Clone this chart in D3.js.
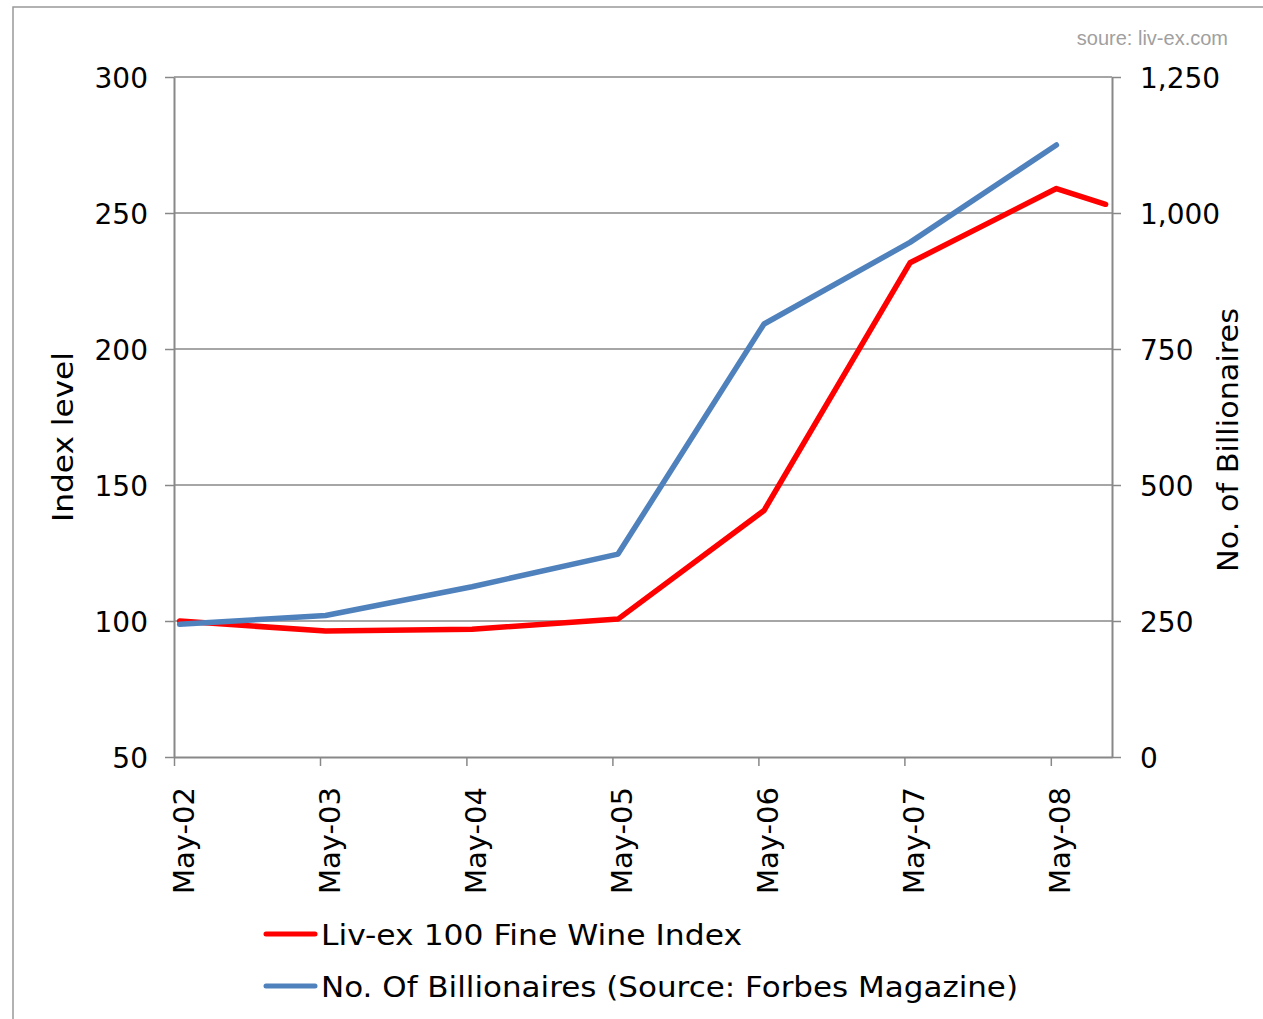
<!DOCTYPE html>
<html>
<head>
<meta charset="utf-8">
<script src="https://cdn.jsdelivr.net/npm/d3@7"></script>
<style>
  body { margin: 0; background: #fff; }
  text { font-family: "DejaVu Sans", Verdana, sans-serif; fill: #000; }
</style>
</head>
<body>
<svg id="screen" width="1263" height="1019"></svg>
<script>
// data
const pointDates = ["2002-05-15", "2003-05-15", "2004-05-15", "2005-05-15", "2006-05-15", "2007-05-15", "2008-05-15", "2008-09-15"];
const wineIndex = [100, 96.3, 97, 100.7, 140.6, 231.7, 259, 253.2];
const billionaires = [244, 260, 313, 373, 796, 946, 1125];
const tickYears = ["May-02", "May-03", "May-04", "May-05", "May-06", "May-07", "May-08"];
const leftTicks = [50, 100, 150, 200, 250, 300];
const rightTicks = [0, 250, 500, 750, 1000, 1250];

const parse = d3.timeParse("%Y-%m-%d");
const parseTick = d3.timeParse("%b-%y");

const svg = d3.select("#screen");

// outer chart frame
svg.append("rect")
  .attr("x", 13).attr("y", 7)
  .attr("width", 1262).attr("height", 1030)
  .attr("fill", "none").attr("stroke", "#999").attr("stroke-width", 1.5)

const plotLeft = 174, plotRight = 1112, plotTop = 77, plotBottom = 757;

const x = d3.scaleTime()
  .domain([new Date(2002, 4, 1), new Date(2008, 9, 1)])
  .range([plotLeft, plotRight]);
const yL = d3.scaleLinear().domain([50, 300]).range([plotBottom, plotTop]);
const yR = d3.scaleLinear().domain([0, 1250]).range([plotBottom, plotTop]);

const grey = "#888";
const font = '"DejaVu Sans", Verdana, sans-serif';

// gridlines
svg.append("g")
  .selectAll("line")
  .data(leftTicks.slice(1))
  .enter()
  .append("line")
  .attr("x1", plotLeft).attr("x2", plotRight)
  .attr("y1", d => yL(d)).attr("y2", d => yL(d))
  .attr("stroke", grey).attr("stroke-width", 1.5)

// left axis
const axL = svg.append("g")
  .attr("transform", `translate(${plotLeft},0)`)
  .call(d3.axisLeft(yL).tickValues(leftTicks).tickSize(9).tickSizeOuter(0).tickPadding(17));
axL.select(".domain").attr("stroke", grey).attr("stroke-width", 2);
axL.selectAll(".tick line").attr("stroke", grey).attr("stroke-width", 1.5);
axL.selectAll("text").style("font-size", "28px").style("font-family", font).attr("fill", "#000").attr("y", 2);

// right axis
const axR = svg.append("g")
  .attr("transform", `translate(${plotRight},0)`)
  .call(d3.axisRight(yR).tickValues(rightTicks).tickSize(9).tickSizeOuter(0).tickPadding(19).tickFormat(d3.format(",")));
axR.select(".domain").attr("stroke", grey).attr("stroke-width", 2);
axR.selectAll(".tick line").attr("stroke", grey).attr("stroke-width", 1.5);
axR.selectAll("text").style("font-size", "28px").style("font-family", font).attr("fill", "#000").attr("y", 2);

// bottom axis, labels turned on their side
const axB = svg.append("g")
  .attr("transform", `translate(0,${plotBottom})`)
  .call(d3.axisBottom(x).tickValues(tickYears.map(parseTick)).tickSize(9).tickSizeOuter(0).tickFormat(d3.timeFormat("%b-%y")));
axB.select(".domain").attr("stroke", grey).attr("stroke-width", 2);
axB.selectAll(".tick line").attr("stroke", grey).attr("stroke-width", 1.5);
axB.selectAll("text")
  .style("font-size", "28px").style("font-family", font).attr("fill", "#000")
  .attr("text-anchor", "end")
  .attr("x", 0).attr("y", 0).attr("dy", 0)
  .attr("textLength", 107).attr("lengthAdjust", "spacingAndGlyphs")
  .attr("transform", "translate(19,30) rotate(-90)");

// lines
const lineL = d3.line().x(d => x(d.date)).y(d => yL(d.v));
const lineR = d3.line().x(d => x(d.date)).y(d => yR(d.v));

const wineData = wineIndex.map((v, i) => ({ date: parse(pointDates[i]), v }));
const billData = billionaires.map((v, i) => ({ date: parse(pointDates[i]), v }));

svg.append("path")
  .datum(wineData)
  .attr("d", lineL)
  .attr("fill", "none").attr("stroke", "#ff0000")
  .attr("stroke-width", 5.5).attr("stroke-linejoin", "round").attr("stroke-linecap", "round")

svg.append("path")
  .datum(billData)
  .attr("d", lineR)
  .attr("fill", "none").attr("stroke", "#4f81bd")
  .attr("stroke-width", 5.5).attr("stroke-linejoin", "round").attr("stroke-linecap", "round")

// axis titles
svg.append("text")
  .text("Index level")
  .attr("transform", "translate(73,437) rotate(-90)")
  .attr("text-anchor", "middle")
  .attr("textLength", 170).attr("lengthAdjust", "spacingAndGlyphs")
  .style("font-size", "28px")

svg.append("text")
  .text("No. of Billionaires")
  .attr("transform", "translate(1238,440) rotate(-90)")
  .attr("text-anchor", "middle")
  .attr("textLength", 264).attr("lengthAdjust", "spacingAndGlyphs")
  .style("font-size", "28px")

// source note
svg.append("text")
  .text("soure: liv-ex.com")
  .attr("x", 1228).attr("y", 45)
  .attr("text-anchor", "end")
  .style("font-family", '"Liberation Sans", Arial, sans-serif')
  .style("font-size", "20px").style("fill", "#a0a0a0")

// legend
const legendItems = [
  { label: "Liv-ex 100 Fine Wine Index", color: "#ff0000", len: 421 },
  { label: "No. Of Billionaires (Source: Forbes Magazine)", color: "#4f81bd", len: 697 }
];
const legend = svg.selectAll(".legend")
  .data(legendItems)
  .enter()
  .append("g")
  .attr("class", "legend")
  .attr("transform", (d, i) => `translate(0,${934 + i * 52})`)

legend.append("line")
  .attr("x1", 266).attr("x2", 315)
  .attr("stroke", d => d.color).attr("stroke-width", 5).attr("stroke-linecap", "round")

legend.append("text")
  .text(d => d.label)
  .attr("x", 321).attr("y", 11)
  .attr("textLength", d => d.len).attr("lengthAdjust", "spacingAndGlyphs")
  .style("font-size", "28px")
</script>
</body>
</html>
